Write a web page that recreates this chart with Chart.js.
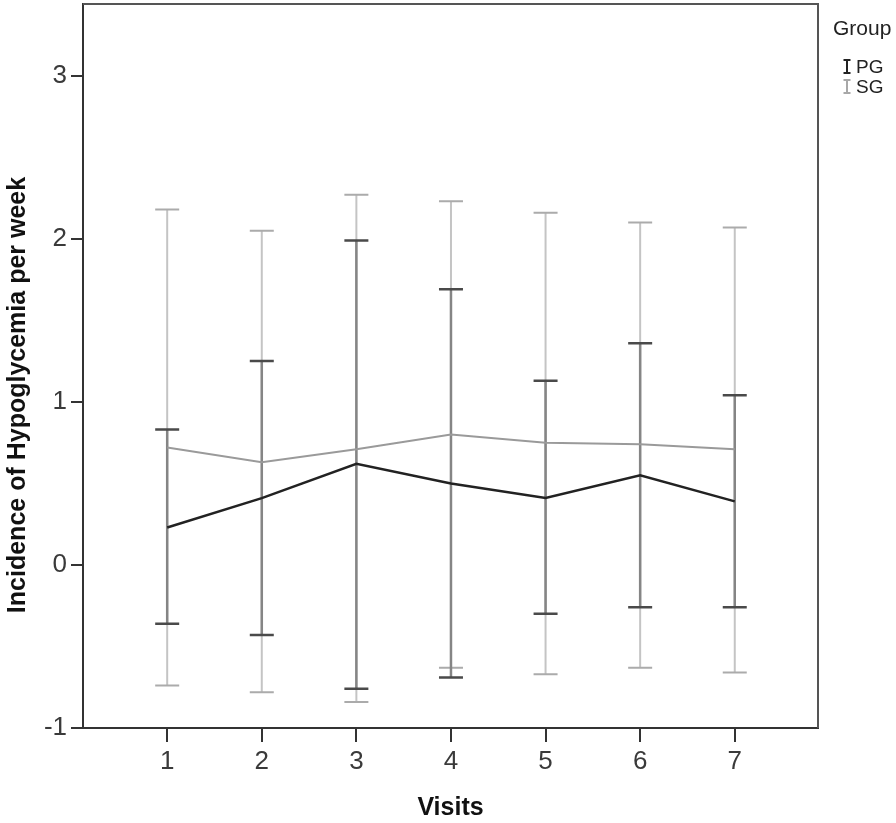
<!DOCTYPE html>
<html>
<head>
<meta charset="utf-8">
<script src="https://cdn.jsdelivr.net/npm/chart.js@4/dist/chart.umd.min.js"></script>
<style>
html,body{margin:0;padding:0;background:#fff;}
#wrap{width:896px;height:823px;position:relative;}
</style>
</head>
<body>
<div id="wrap"><canvas id="c" width="896" height="823"></canvas></div>
<script>
// ---- data ----
const visits = [1, 2, 3, 4, 5, 6, 7];
const yTicks = [-1, 0, 1, 2, 3];
const groupNames = ['PG', 'SG'];
const pgMean  = [0.23, 0.41, 0.62, 0.50, 0.41, 0.55, 0.39];
const pgUpper = [0.83, 1.25, 1.99, 1.69, 1.13, 1.36, 1.04];
const pgLower = [-0.36, -0.43, -0.76, -0.69, -0.30, -0.26, -0.26];
const sgMean  = [0.72, 0.63, 0.71, 0.80, 0.75, 0.74, 0.71];
const sgUpper = [2.18, 2.05, 2.27, 2.23, 2.16, 2.10, 2.07];
const sgLower = [-0.74, -0.78, -0.84, -0.63, -0.67, -0.63, -0.66];
const xTitle = 'Visits';
const yTitle = 'Incidence of Hypoglycemia per week';
const legendTitle = 'Group';

const FONT = "'Liberation Sans', Arial, sans-serif";
Chart.defaults.font.family = FONT;

const errStyles = [
  {whisker: '#858585', cap: '#4a4a4a', width: 2.5, capW: 12},  // PG
  {whisker: '#c4c4c4', cap: '#ababab', width: 2, capW: 12}     // SG
];
const errData = [
  {lo: pgLower, hi: pgUpper},
  {lo: sgLower, hi: sgUpper}
];

const errorBarPlugin = {
  id: 'errorBars',
  beforeDatasetsDraw(chart) {
    const ctx = chart.ctx;
    const xs = chart.scales.x, ys = chart.scales.y;
    [1, 0].forEach(di => {
      const st = errStyles[di], d = errData[di];
      ctx.save();
      ctx.lineCap = 'butt';
      visits.forEach((v, i) => {
        const px = xs.getPixelForValue(v);
        const yl = ys.getPixelForValue(d.lo[i]);
        const yh = ys.getPixelForValue(d.hi[i]);
        ctx.strokeStyle = st.whisker;
        ctx.lineWidth = st.width;
        ctx.beginPath();
        ctx.moveTo(px, yl); ctx.lineTo(px, yh);
        ctx.stroke();
        ctx.strokeStyle = st.cap;
        ctx.beginPath();
        ctx.moveTo(px - st.capW, yl); ctx.lineTo(px + st.capW, yl);
        ctx.moveTo(px - st.capW, yh); ctx.lineTo(px + st.capW, yh);
        ctx.stroke();
      });
      ctx.restore();
    });
  },
  afterDraw(chart) {
    const ctx = chart.ctx;
    const a = chart.chartArea;
    ctx.save();
    ctx.strokeStyle = '#555';
    ctx.lineWidth = 2;
    ctx.beginPath();
    ctx.moveTo(a.left, a.top); ctx.lineTo(a.right, a.top); ctx.lineTo(a.right, a.bottom);
    ctx.stroke();
    ctx.fillStyle = '#111';
    ctx.font = "bold 25px " + FONT;
    ctx.textAlign = 'center';
    ctx.textBaseline = 'alphabetic';
    ctx.translate(25, 395);
    ctx.rotate(-Math.PI / 2);
    ctx.fillText(yTitle, 0, 0);
    ctx.restore();

    ctx.save();
    ctx.fillStyle = '#222';
    ctx.textAlign = 'left';
    ctx.textBaseline = 'alphabetic';
    ctx.font = "21px " + FONT;
    ctx.fillText(legendTitle, 833, 35);
    const colors = ['#222', '#a8a8a8'];
    const base = [73, 93];
    groupNames.forEach((g, i) => {
      const b = base[i];
      ctx.strokeStyle = colors[i];
      ctx.lineWidth = 2;
      ctx.beginPath();
      ctx.moveTo(847, b - 13); ctx.lineTo(847, b);
      ctx.moveTo(843.5, b - 13); ctx.lineTo(850.5, b - 13);
      ctx.moveTo(843.5, b); ctx.lineTo(850.5, b);
      ctx.stroke();
      ctx.fillStyle = '#222';
      ctx.font = "19px " + FONT;
      ctx.fillText(g, 856, b);
    });
    ctx.restore();
  }
};

new Chart(document.getElementById('c'), {
  type: 'line',
  data: {
    datasets: [
      {
        label: groupNames[0],
        data: visits.map((v, i) => ({x: v, y: pgMean[i]})),
        borderColor: '#222',
        borderWidth: 2.5,
        pointRadius: 0,
        tension: 0,
        fill: false
      },
      {
        label: groupNames[1],
        data: visits.map((v, i) => ({x: v, y: sgMean[i]})),
        borderColor: '#9a9a9a',
        borderWidth: 2,
        pointRadius: 0,
        tension: 0,
        fill: false
      }
    ]
  },
  options: {
    responsive: false,
    animation: false,
    devicePixelRatio: 1,
    layout: {padding: {top: 4, right: 78, left: 0, bottom: 0}},
    plugins: {legend: {display: false}, tooltip: {enabled: false}},
    scales: {
      x: {
        type: 'linear',
        min: 0.11,
        max: 7.88,
        afterBuildTicks(s) { s.ticks = visits.map(v => ({value: v})); },
        afterFit(s) { s.height = 95; s.paddingLeft = 0; s.paddingRight = 0; },
        ticks: {
          includeBounds: false,
          color: '#3a3a3a',
          font: {size: 26},
          padding: 4,
          maxRotation: 0,
          callback: v => String(v)
        },
        grid: {drawOnChartArea: false, drawTicks: true, tickLength: 14, color: '#333', lineWidth: 2},
        border: {display: true, color: '#333', width: 2},
        title: {display: true, text: xTitle, color: '#111', font: {size: 25, weight: 'bold'}, padding: {top: 0, bottom: 0}}
      },
      y: {
        type: 'linear',
        min: -1,
        max: 3.44,
        afterBuildTicks(s) { s.ticks = yTicks.map(v => ({value: v})); },
        afterFit(s) { s.width = 83; s.paddingTop = 0; s.paddingBottom = 0; },
        ticks: {
          includeBounds: false,
          color: '#3a3a3a',
          font: {size: 26},
          padding: 4,
          callback: v => String(v)
        },
        grid: {drawOnChartArea: false, drawTicks: true, tickLength: 12, color: '#333', lineWidth: 2},
        border: {display: true, color: '#333', width: 2}
      }
    }
  },
  plugins: [errorBarPlugin]
});
</script>
</body>
</html>
